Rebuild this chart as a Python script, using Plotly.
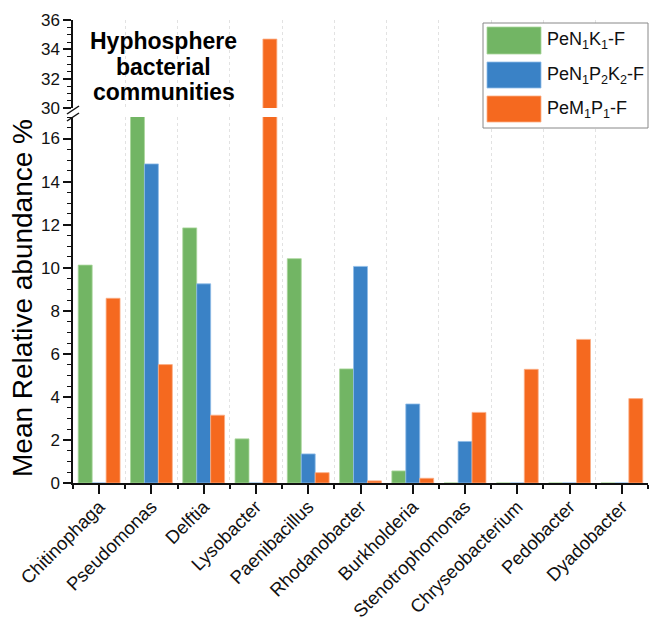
import plotly.graph_objects as go

categories = ["Chitinophaga", "Pseudomonas", "Delftia", "Lysobacter", "Paenibacillus",
              "Rhodanobacter", "Burkholderia", "Stenotrophomonas", "Chryseobacterium",
              "Pedobacter", "Dyadobacter"]
series_names = ["PeN<sub>1</sub>K<sub>1</sub>-F", "PeN<sub>1</sub>P<sub>2</sub>K<sub>2</sub>-F",
                "PeM<sub>1</sub>P<sub>1</sub>-F"]
green_vals = [10.12, 17.1, 11.85, 2.05, 10.42, 5.3, 0.56, 0, 0, 0, 0]
blue_vals = [0, 14.82, 9.25, 0, 1.35, 10.06, 3.67, 1.93, 0, 0, 0]
orange_vals = [8.58, 5.5, 3.15, 34.7, 0.48, 0.1, 0.22, 3.28, 5.28, 6.67, 3.92]
lower_ticks = [0, 2, 4, 6, 8, 10, 12, 14, 16]
upper_ticks = [30, 32, 34, 36]
title_lines = ["Hyphosphere", "bacterial", "communities"]

colors = ["#72B564", "#3A82C6", "#F5691F"]
edge_colors = ["#A8D59A", "#8FBDE8", "#FBAE86"]
all_vals = [green_vals, blue_vals, orange_vals]
xpos = list(range(len(categories)))

W, H = 649, 620
ML, MR, MT, MB = 73, 1, 20, 137
PW, PH = W - ML - MR, H - MT - MB

def px(x):
    return (x - ML) / PW

def py(y):
    return (H - MB - y) / PH

FONT = "Arial, Liberation Sans, sans-serif"

fig = go.Figure()
for yax in ["y", "y2"]:
    for i, vals in enumerate(all_vals):
        fig.add_trace(go.Bar(
            x=xpos, y=vals, name=series_names[i], yaxis=yax, xaxis="x",
            marker=dict(color=colors[i], line=dict(color=edge_colors[i], width=0.8)),
            showlegend=False))

fig.update_layout(
    width=W, height=H,
    margin=dict(l=ML, r=MR, t=MT, b=MB, autoexpand=False),
    plot_bgcolor="white", paper_bgcolor="white",
    barmode="group", bargap=0.2, bargroupgap=0,
    font=dict(family=FONT, size=17, color="#111"),
    xaxis=dict(
        range=[-0.5, 10.5], tickmode="array", tickvals=xpos, ticktext=categories,
        tickangle=-45, ticks="outside", ticklen=9, tickwidth=1.5, tickcolor="#111",
        showline=True, linecolor="#111", linewidth=1.5, showgrid=False, zeroline=False,
        anchor="y", tickfont=dict(size=18.5), automargin=False, ticklabelstandoff=-5,
        minor=dict(tick0=0.5, dtick=1, ticks="outside", ticklen=4, tickwidth=1.5,
                   tickcolor="#111", showgrid=True, gridcolor="#E2E2E2",
                   griddash="dot", gridwidth=1),
    ),
    yaxis=dict(
        domain=[0, py(117)], range=[0, 17], tickvals=lower_ticks,
        ticks="outside", ticklen=8, tickwidth=1.5, tickcolor="#111",
        showline=True, linecolor="#111", linewidth=1.5, showgrid=False, zeroline=False,
        anchor="x", automargin=False,
        minor=dict(dtick=0.5, ticks="outside", ticklen=4, tickwidth=1, tickcolor="#111",
                   showgrid=False),
    ),
    yaxis2=dict(
        domain=[py(108), 1], range=[30, 36], tickvals=upper_ticks,
        ticks="outside", ticklen=8, tickwidth=1.5, tickcolor="#111",
        showline=True, linecolor="#111", linewidth=1.5, showgrid=False, zeroline=False,
        anchor="x", automargin=False,
        minor=dict(dtick=0.5, ticks="outside", ticklen=4, tickwidth=1, tickcolor="#111",
                   showgrid=False),
    ),
)

shapes = []
# axis break marks
for yb in [110, 117]:
    shapes.append(dict(type="line", xref="paper", yref="paper",
                       x0=px(67), y0=py(yb + 4), x1=px(79), y1=py(yb - 4),
                       line=dict(color="#111", width=1.5)))
# custom legend
shapes.append(dict(type="rect", xref="paper", yref="paper",
                   x0=px(483), x1=px(648), y0=py(128), y1=py(23),
                   line=dict(color="#888", width=1), fillcolor="white", layer="above"))
sw = [(27, 54), (62, 88), (96, 122)]
annotations = []
for i, (a, b) in enumerate(sw):
    shapes.append(dict(type="rect", xref="paper", yref="paper",
                       x0=px(487), x1=px(541), y0=py(b), y1=py(a),
                       line=dict(color=edge_colors[i], width=0.8), fillcolor=colors[i],
                       layer="above"))
    annotations.append(dict(xref="paper", yref="paper", x=px(545), y=py((a + b) / 2),
                            xanchor="left", yanchor="middle", showarrow=False,
                            text=series_names[i],
                            font=dict(size=18, color="#111", family=FONT)))

for yc, line in zip([41, 67, 92], title_lines):
    annotations.append(dict(xref="paper", yref="paper", x=px(163.5), y=py(yc),
                            xanchor="center", yanchor="middle", showarrow=False,
                            text="<b>" + line + "</b>",
                            font=dict(size=23, color="#000", family=FONT)))
annotations.append(dict(xref="paper", yref="paper", x=px(22), y=py(298),
                        xanchor="center", yanchor="middle", showarrow=False,
                        textangle=-90, text="Mean Relative abundance %",
                        font=dict(size=28, color="#000", family=FONT)))

fig.update_layout(shapes=shapes, annotations=annotations)
fig.write_html("out.html", post_script="document.body.style.margin='0';",
               config={"displayModeBar": False})
